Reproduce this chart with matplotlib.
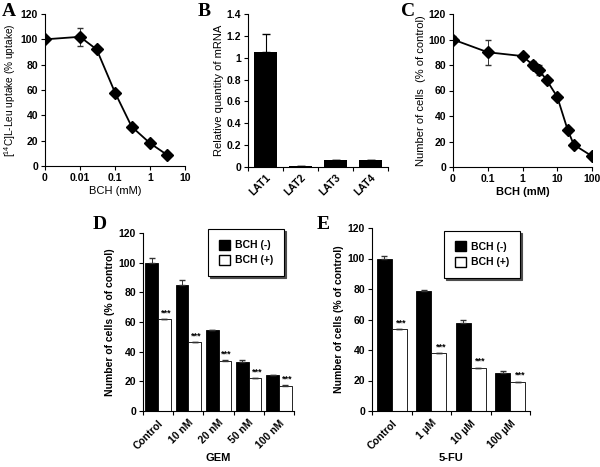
import numpy as np
import matplotlib
matplotlib.use('Agg')
import matplotlib.pyplot as plt
from matplotlib.patches import Patch

plt.rcParams['font.family'] = ['Liberation Sans', 'DejaVu Sans']

# Panel A: [14C]L-Leu uptake vs BCH
a_x = [0.001, 0.01, 0.03, 0.1, 0.3, 1, 3]   # "0" is drawn at 0.001
a_y = [100, 102, 92, 58, 31, 18, 9]
a_err = [0, 7, 0, 0, 0, 0, 0]

# Panel B: LAT mRNA
b_cats = ['LAT1', 'LAT2', 'LAT3', 'LAT4']
b_vals = [1.05, 0.005, 0.06, 0.06]
b_err = [0.17, 0, 0, 0]

# Panel C: cell number vs BCH
c_x = [0.01, 0.1, 1, 2, 3, 5, 10, 20, 30, 100]   # "0" is drawn at 0.01
c_y = [100, 90, 87, 80, 76, 68, 55, 29, 17.5, 8.5]
c_err = [3, 10, 0, 3, 4, 0, 0, 0, 0, 0]

# Panel D: GEM
d_cats = ['Control', '10 nM', '20 nM', '50 nM', '100 nM']
d_minus = [100, 85, 54.5, 33, 24]
d_minus_err = [3, 3, 0.3, 1.5, 0.5]
d_plus = [62, 46.5, 34, 22, 17]
d_plus_err = [0.3, 0.3, 0.5, 0.3, 0.3]

# Panel E: 5-FU
e_cats = ['Control', '1 \u00b5M', '10 \u00b5M', '100 \u00b5M']
e_minus = [100, 78.5, 57.5, 25]
e_minus_err = [1.5, 1, 2, 1.5]
e_plus = [53.5, 38, 28, 19]
e_plus_err = [0.5, 0.3, 0.5, 0.3]

W, H = 600, 467
fig = plt.figure(figsize=(6, 4.67), dpi=100)


def box(l, r, t, b):
    return [l / W, 1 - b / H, (r - l) / W, (b - t) / H]


def style(ax):
    for s in ['top', 'right']:
        ax.spines[s].set_visible(False)
    ax.tick_params(direction='out', length=3, width=0.8, labelsize=7.5, pad=2)
    for lab in ax.get_xticklabels() + ax.get_yticklabels():
        lab.set_fontweight('bold')


def letter(x, y, s):
    fig.text(x / W, 1 - y / H, s, family='Liberation Serif', fontweight='bold',
             fontsize=14, va='top', ha='left')


# ---- A
ax = fig.add_axes(box(45, 185, 14, 166))
ax.errorbar(a_x, a_y, yerr=a_err, color='black', marker='D', markersize=6.5,
            lw=1.3, ecolor='#333333', elinewidth=0.7, capsize=2.5)
ax.set_xscale('log')
ax.set_xlim(0.001, 10)
ax.set_ylim(0, 120)
ax.set_xticks([0.001, 0.01, 0.1, 1, 10])
ax.set_xticklabels(['0', '0.01', '0.1', '1', '10'])
ax.xaxis.set_minor_locator(matplotlib.ticker.NullLocator())
ax.set_yticks(range(0, 121, 20))
ax.set_xlabel('BCH (mM)', fontsize=8, labelpad=2)
ax.set_ylabel('[$^{\\mathregular{14}}$C]L-Leu uptake (% uptake)', fontsize=7.3,
              labelpad=2)
style(ax)
letter(2, 3, 'A')

# ---- B
ax = fig.add_axes(box(248, 388, 14, 167))
pos = np.arange(len(b_cats))
ax.bar(pos, b_vals, width=0.68, color='black', yerr=[np.zeros(4), b_err],
       error_kw=dict(ecolor='black', elinewidth=0.8, capsize=3))
ax.set_xlim(-0.5, len(b_cats) - 0.5)
ax.set_ylim(0, 1.4)
ax.set_yticks(np.arange(0, 1.41, 0.2))
ax.set_yticklabels(['0', '0.2', '0.4', '0.6', '0.8', '1', '1.2', '1.4'])
ax.set_xticks(pos)
ax.set_xticklabels(b_cats, rotation=45, ha='right', rotation_mode='anchor')
ax.set_xticks(np.arange(-0.5, len(b_cats)), minor=True)
ax.set_ylabel('Relative quantity of mRNA', fontsize=8, labelpad=2)
style(ax)
ax.tick_params(axis='x', which='major', length=0, pad=4)
ax.tick_params(axis='x', which='minor', length=3, direction='out', width=0.8)
letter(198, 3, 'B')

# ---- C
ax = fig.add_axes(box(453, 592, 14, 167))
ax.errorbar(c_x, c_y, yerr=c_err, color='black', marker='D', markersize=6.5,
            lw=1.3, ecolor='#333333', elinewidth=0.7, capsize=2.5)
ax.set_xscale('log')
ax.set_xlim(0.01, 100)
ax.set_ylim(0, 120)
ax.set_xticks([0.01, 0.1, 1, 10, 100])
ax.set_xticklabels(['0', '0.1', '1', '10', '100'])
ax.xaxis.set_minor_locator(matplotlib.ticker.NullLocator())
ax.set_yticks(range(0, 121, 20))
ax.set_xlabel('BCH (mM)', fontsize=8, fontweight='bold', labelpad=2)
ax.set_ylabel('Number of cells  (% of control)', fontsize=8, labelpad=2)
style(ax)
letter(401, 3, 'C')


def paired(ax, cats, minus, minus_err, plus, plus_err, width, xlabel, leg_anchor):
    pos = np.arange(len(cats))
    ax.bar(pos - width / 2, minus, width, color='black', edgecolor='black', lw=0.6,
           yerr=[np.zeros(len(cats)), minus_err],
           error_kw=dict(ecolor='#333333', elinewidth=0.7, capsize=2))
    ax.bar(pos + width / 2, plus, width, color='white', edgecolor='black', lw=0.6,
           yerr=[np.zeros(len(cats)), plus_err],
           error_kw=dict(ecolor='#333333', elinewidth=0.7, capsize=2))
    for p, v, e in zip(pos, plus, plus_err):
        ax.text(p + width / 2 + 0.06, v + e + 1.0, '***', ha='center', va='bottom',
                fontsize=6.5, fontweight='bold')
    ax.set_xlim(-0.5, len(cats) - 0.5)
    ax.set_ylim(0, 120)
    ax.set_yticks(range(0, 121, 20))
    ax.set_xticks(pos)
    ax.set_xticklabels(cats, rotation=45, ha='right', rotation_mode='anchor')
    ax.set_xticks(np.arange(-0.5, len(cats)), minor=True)
    ax.set_ylabel('Number of cells (% of control)', fontsize=7.5, fontweight='bold',
                  labelpad=3)
    style(ax)
    ax.tick_params(axis='x', which='major', length=0, pad=5)
    ax.tick_params(axis='x', which='minor', length=3, direction='out', width=0.8)
    # axis title placed near the bottom edge of the figure
    ax.text(0.5, 9 / H, xlabel, transform=matplotlib.transforms.blended_transform_factory(
        ax.transAxes, fig.transFigure),
        ha='center', va='center', fontsize=8, fontweight='bold')
    handles = [Patch(facecolor='black', edgecolor='black', label='BCH (-)'),
               Patch(facecolor='white', edgecolor='black', label='BCH (+)')]
    leg = ax.legend(handles=handles, loc='upper right', bbox_to_anchor=leg_anchor,
                    frameon=True, fancybox=False,
                    shadow={'color': '0.3', 'alpha': 1.0, 'ox': 1.5, 'oy': -1.5},
                    edgecolor='black',
                    prop=dict(weight='bold', size=7.5), handlelength=1.1,
                    handleheight=1.1, handletextpad=0.5, labelspacing=0.45,
                    borderpad=1.0, borderaxespad=0)
    leg.get_frame().set_linewidth(0.8)


# ---- D
ax = fig.add_axes(box(143, 294, 233, 411))
paired(ax, d_cats, d_minus, d_minus_err, d_plus, d_plus_err, 0.42, 'GEM',
       (0.934, 1.022))
letter(93, 216, 'D')

# ---- E
ax = fig.add_axes(box(372, 530, 228, 411))
paired(ax, e_cats, e_minus, e_minus_err, e_plus, e_plus_err, 0.38, '5-FU',
       (0.937, 0.984))
letter(317, 216, 'E')

fig.savefig('out.png', dpi=100)
